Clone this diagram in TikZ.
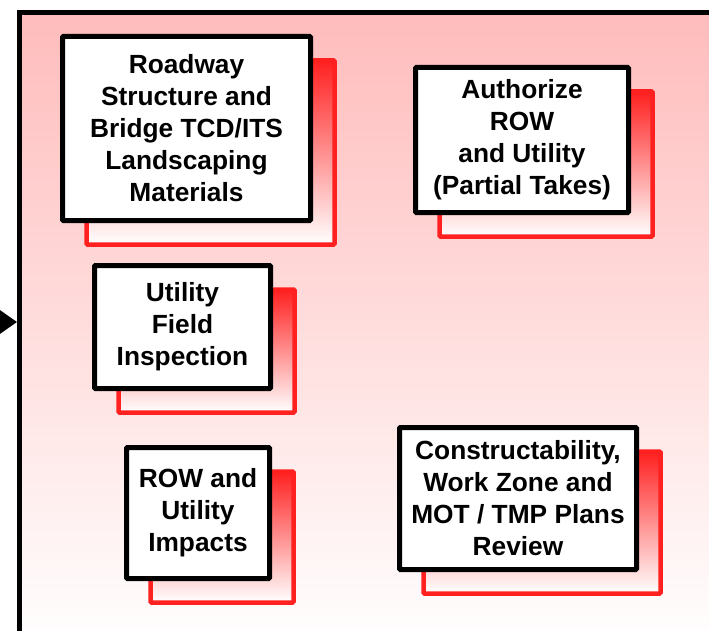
\documentclass[tikz,border=0pt]{standalone}
\usepackage{fontspec}
\setmainfont{Liberation Sans}
\usetikzlibrary{arrows.meta,shadows}
\definecolor{boxred}{RGB}{255,32,32}
\definecolor{framepink}{RGB}{255,188,188}

\begin{document}
\begin{tikzpicture}[x=1pt,y=-1pt,
    task/.style={draw=black,line width=5pt,fill=white,rounded corners=1pt,align=center,inner sep=0pt,
        font=\fontsize{26.3}{32}\selectfont\bfseries,
        general shadow={shadow xshift=24pt,shadow yshift=-24pt,draw=boxred,line width=4.5pt,top color=boxred,bottom color=white}}]

    \useasboundingbox (0,0) rectangle (709,631);
    \clip (0,0) rectangle (709,631);

    \draw[line width=5pt,top color=framepink,bottom color=white] (19.5,12.5) rectangle (730,650);

    \coordinate (feed) at (-40,322);
    \coordinate (entry) at (17,322);
    \draw[line width=3pt,-{Triangle[length=17pt,width=23pt]}] (feed) -- (entry);

    \node[task,minimum width=248pt,minimum height=184pt] (roadway) at (186.5,128.5) {Roadway\\Structure and\\Bridge TCD/ITS\\Landscaping\\Materials};
    \node[task,minimum width=213pt,minimum height=145pt] (authorize) at (522,140) {Authorize\\ROW\\and Utility\\(Partial Takes)};
    \node[task,minimum width=176pt,minimum height=123pt] (fieldinsp) at (182.5,327) {Utility\\Field\\Inspection};
    \node[task,minimum width=143pt,minimum height=131pt] (impacts) at (198,513) {ROW and\\Utility\\Impacts};
    \node[task,minimum width=237pt,minimum height=142pt] (review) at (518,498.5) {Constructability,\\Work Zone and\\MOT / TMP Plans\\Review};

\end{tikzpicture}
\end{document}
